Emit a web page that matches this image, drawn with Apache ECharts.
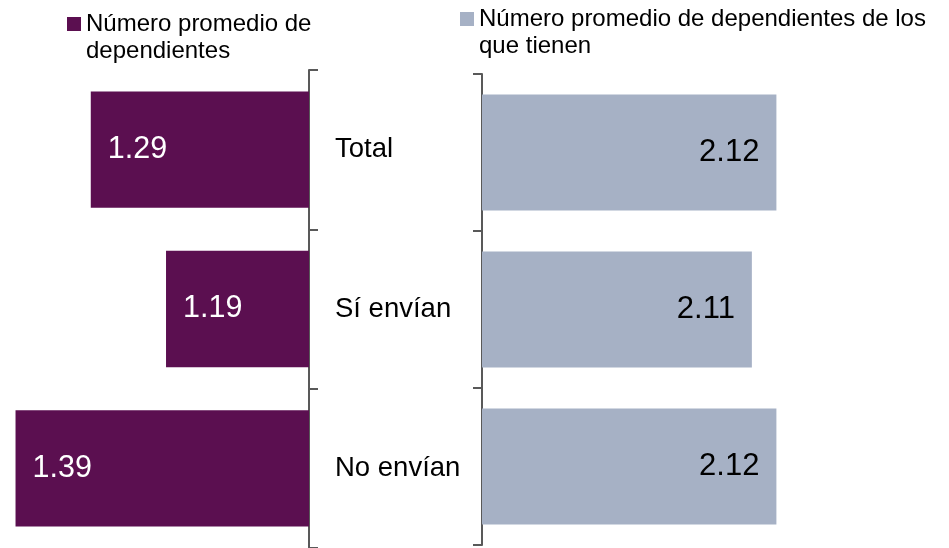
<!DOCTYPE html>
<html><head><meta charset="utf-8">
<script src="https://cdn.jsdelivr.net/npm/echarts@6/dist/echarts.min.js"></script>
<style>html,body{margin:0;padding:0;background:#fff}#c{width:949px;height:548px}</style>
</head><body><div id="c"></div>
<script>
const categories = ['Total', 'Sí envían', 'No envían'];
const seriesNames = ['Número promedio de dependientes', 'Número promedio de dependientes de los que tienen'];
const legendText = {
  'Número promedio de dependientes': 'Número promedio de\ndependientes',
  'Número promedio de dependientes de los que tienen': 'Número promedio de dependientes de los\nque tienen'
};
const avgDependents = [1.29, 1.19, 1.39];
const avgDependentsOfHolders = [2.12, 2.11, 2.12];

const FONT = '"Liberation Sans", Arial, sans-serif';
const PURPLE = '#5B0F50';
const GRAY = '#A6B1C5';
const AXIS = '#595959';

const chart = echarts.init(document.getElementById('c'), null, {renderer: 'canvas'});
const legendCommon = {
  orient: 'horizontal', icon: 'rect', itemWidth: 14, itemHeight: 14, padding: 0,
  // leading empty line keeps the first text line level with the icon
  formatter: n => '\n' + legendText[n],
  textStyle: {fontFamily: FONT, fontSize: 24, lineHeight: 27, color: '#000'}
};
chart.setOption({
  animation: false,
  textStyle: {fontFamily: FONT},
  legend: [
    Object.assign({data: [seriesNames[0]], left: 67, top: -16.5}, legendCommon),
    Object.assign({data: [seriesNames[1]], left: 460, top: -21.5}, legendCommon)
  ],
  grid: [
    {left: 8, right: 640, top: 70, height: 480},
    {left: 482, right: 99, top: 74, height: 471}
  ],
  xAxis: [
    {gridIndex: 0, type: 'value', min: 1.0, max: 1.4, inverse: true, show: false},
    {gridIndex: 1, type: 'value', min: 2.0, max: 2.15, show: false}
  ],
  yAxis: [
    {gridIndex: 0, type: 'category', data: categories, inverse: true, position: 'right',
      axisLine: {show: true, lineStyle: {color: AXIS, width: 2}},
      axisTick: {show: true, length: 9, lineStyle: {color: AXIS, width: 2}},
      axisLabel: {show: true, color: '#000', fontSize: 27.5, margin: 26, align: 'left', fontFamily: FONT},
      splitLine: {show: false}},
    {gridIndex: 1, type: 'category', data: categories, inverse: true, position: 'left',
      axisLine: {show: true, lineStyle: {color: AXIS, width: 2}},
      axisTick: {show: true, length: 9, lineStyle: {color: AXIS, width: 2}},
      axisLabel: {show: false}, splitLine: {show: false}}
  ],
  series: [
    {name: seriesNames[0], type: 'bar', xAxisIndex: 0, yAxisIndex: 0, data: avgDependents,
      barCategoryGap: '27%', itemStyle: {color: PURPLE},
      label: {show: true, position: 'insideLeft', distance: 17, color: '#fff', fontSize: 30.5, fontFamily: FONT,
        formatter: p => p.value.toFixed(2)}},
    {name: seriesNames[1], type: 'bar', xAxisIndex: 1, yAxisIndex: 1, data: avgDependentsOfHolders,
      barCategoryGap: '26%', itemStyle: {color: GRAY},
      label: {show: true, position: 'insideRight', distance: 17, color: '#000', fontSize: 31, fontFamily: FONT,
        formatter: p => p.value.toFixed(2)}}
  ]
});
</script></body></html>
